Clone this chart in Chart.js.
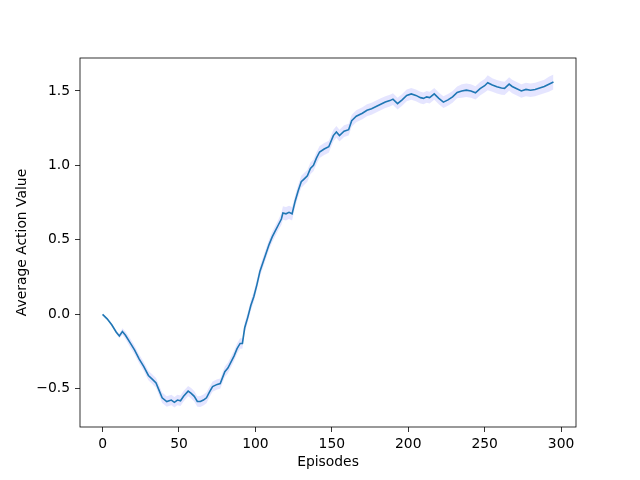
<!DOCTYPE html>
<html>
<head>
<meta charset="utf-8">
<script src="https://cdn.jsdelivr.net/npm/chart.js@4"></script>
<style>
  body { margin: 0; background: #fff; }
  canvas { display: block; }
</style>
</head>
<body>
<canvas id="chart" width="640" height="480"></canvas>
<script>
// values
var episodes = [0, 3, 6, 9, 11, 13, 15, 18, 21, 24, 27, 30, 33, 35, 37, 39, 42, 45, 47, 49,
    51, 53, 56, 58, 60, 62, 64, 66, 68, 70, 72, 75, 77, 80, 82, 84, 86, 88, 90, 91.5,
    93, 95, 97, 99, 101, 103, 105, 107, 109, 111, 113, 115, 117, 118, 120, 122, 124, 126, 128, 130,
    132, 134, 136, 138, 140, 142, 145, 148, 151, 153, 155, 158, 161, 163, 166, 170, 173, 176, 179, 182,
    185, 188, 190, 193, 196, 199, 202, 205, 208, 210, 212, 214, 217, 220, 223, 226, 229, 232, 235, 238,
    241, 244, 247, 250, 252, 255, 258, 261, 263, 266, 268, 271, 274, 277, 280, 283, 286, 289, 292, 295];
var meanValues = [0.0, -0.03, -0.07, -0.12, -0.145, -0.115, -0.14, -0.19, -0.24, -0.30, -0.35, -0.41, -0.44, -0.46, -0.51, -0.56, -0.585, -0.575, -0.59, -0.575,
    -0.58, -0.55, -0.515, -0.53, -0.55, -0.585, -0.585, -0.575, -0.56, -0.52, -0.485, -0.47, -0.465, -0.385, -0.36, -0.32, -0.28, -0.23, -0.195, -0.195,
    -0.09, -0.02, 0.06, 0.12, 0.2, 0.29, 0.35, 0.41, 0.47, 0.52, 0.56, 0.6, 0.64, 0.68, 0.675, 0.685, 0.675, 0.76, 0.83, 0.89,
    0.91, 0.93, 0.98, 1.0, 1.05, 1.09, 1.11, 1.125, 1.2, 1.225, 1.2, 1.23, 1.24, 1.3, 1.33, 1.35, 1.37, 1.38, 1.395, 1.41,
    1.425, 1.435, 1.445, 1.415, 1.44, 1.47, 1.48, 1.47, 1.455, 1.45, 1.46, 1.455, 1.48, 1.45, 1.425, 1.44, 1.46, 1.49, 1.5, 1.505,
    1.5, 1.487, 1.515, 1.535, 1.555, 1.54, 1.528, 1.52, 1.517, 1.546, 1.53, 1.515, 1.5, 1.51, 1.505, 1.51, 1.52, 1.53, 1.545, 1.56];
var spread = [0.005, 0.008, 0.01, 0.012, 0.015, 0.022, 0.025, 0.03, 0.03, 0.03, 0.03, 0.032, 0.033, 0.033, 0.035, 0.035, 0.035, 0.035, 0.035, 0.035,
    0.035, 0.035, 0.035, 0.035, 0.035, 0.035, 0.037, 0.037, 0.037, 0.035, 0.035, 0.035, 0.035, 0.035, 0.035, 0.035, 0.035, 0.035, 0.035, 0.035,
    0.035, 0.035, 0.035, 0.035, 0.035, 0.035, 0.035, 0.035, 0.035, 0.035, 0.035, 0.035, 0.04, 0.045, 0.045, 0.045, 0.045, 0.04, 0.04, 0.04,
    0.04, 0.04, 0.04, 0.04, 0.04, 0.04, 0.04, 0.04, 0.04, 0.04, 0.04, 0.04, 0.04, 0.04, 0.04, 0.04, 0.04, 0.04, 0.04, 0.04,
    0.04, 0.04, 0.04, 0.04, 0.04, 0.04, 0.04, 0.04, 0.04, 0.04, 0.04, 0.04, 0.04, 0.04, 0.04, 0.04, 0.04, 0.04, 0.045, 0.045,
    0.045, 0.045, 0.045, 0.045, 0.05, 0.045, 0.045, 0.045, 0.045, 0.045, 0.045, 0.045, 0.045, 0.045, 0.045, 0.045, 0.045, 0.045, 0.05, 0.05];
var xTicks = [0, 50, 100, 150, 200, 250, 300];
var yTicks = [-0.5, 0.0, 0.5, 1.0, 1.5];

function points(offset) {
    return episodes.map(function (e, i) {
        return { x: e, y: meanValues[i] + offset * spread[i] };
    });
}

var framePlugin = {
    id: 'frame',
    afterDraw: function (chart) {
        var a = chart.chartArea, ctx = chart.ctx;
        ctx.save();
        ctx.strokeStyle = '#000';
        ctx.lineWidth = 0.8;
        ctx.strokeRect(a.left, a.top, a.right - a.left, a.bottom - a.top);
        ctx.restore();
    }
};

Chart.defaults.font.family = '"DejaVu Sans", sans-serif';
Chart.defaults.font.size = 13.89;
Chart.defaults.color = '#000';

new Chart(document.getElementById('chart'), {
    type: 'line',
    data: {
        datasets: [{
            data: points(0),
            borderColor: '#1f77b4',
            borderWidth: 1.6,
            pointRadius: 0,
            fill: false
        }, {
            data: points(-1),
            borderColor: 'rgba(0,0,0,0)',
            borderWidth: 0,
            pointRadius: 0,
            fill: false
        }, {
            data: points(1),
            borderColor: 'rgba(0,0,0,0)',
            borderWidth: 0,
            pointRadius: 0,
            backgroundColor: 'rgba(0,0,255,0.1)',
            fill: '-1'
        }]
    },
    options: {
        responsive: false,
        animation: false,
        layout: { padding: { top: 58, right: 64, left: 0, bottom: 0 } },
        plugins: { legend: { display: false }, tooltip: { enabled: false } },
        scales: {
            x: {
                type: 'linear',
                min: -14.75,
                max: 309.75,
                afterFit: function (s) { s.height = 53; },
                afterBuildTicks: function (s) { s.ticks = xTicks.map(function (v) { return { value: v }; }); },
                grid: { drawOnChartArea: false, drawTicks: true, tickLength: 5, tickColor: '#000', tickWidth: 0.8 },
                border: { display: false },
                ticks: { padding: 4, maxRotation: 0, callback: function (v) { return String(v); } },
                title: { display: true, text: 'Episodes', padding: { top: 0, bottom: 9 } }
            },
            y: {
                min: -0.756,
                max: 1.721,
                afterFit: function (s) { s.width = 80; },
                afterBuildTicks: function (s) { s.ticks = yTicks.map(function (v) { return { value: v }; }); },
                grid: { drawOnChartArea: false, drawTicks: true, tickLength: 5, tickColor: '#000', tickWidth: 0.8 },
                border: { display: false },
                ticks: { padding: 5, callback: function (v) { return v.toFixed(1).replace('-', '\u2212'); } },
                title: { display: true, text: 'Average Action Value', padding: { top: 14, bottom: 0 } }
            }
        }
    },
    plugins: [framePlugin]
});
</script>
</body>
</html>
